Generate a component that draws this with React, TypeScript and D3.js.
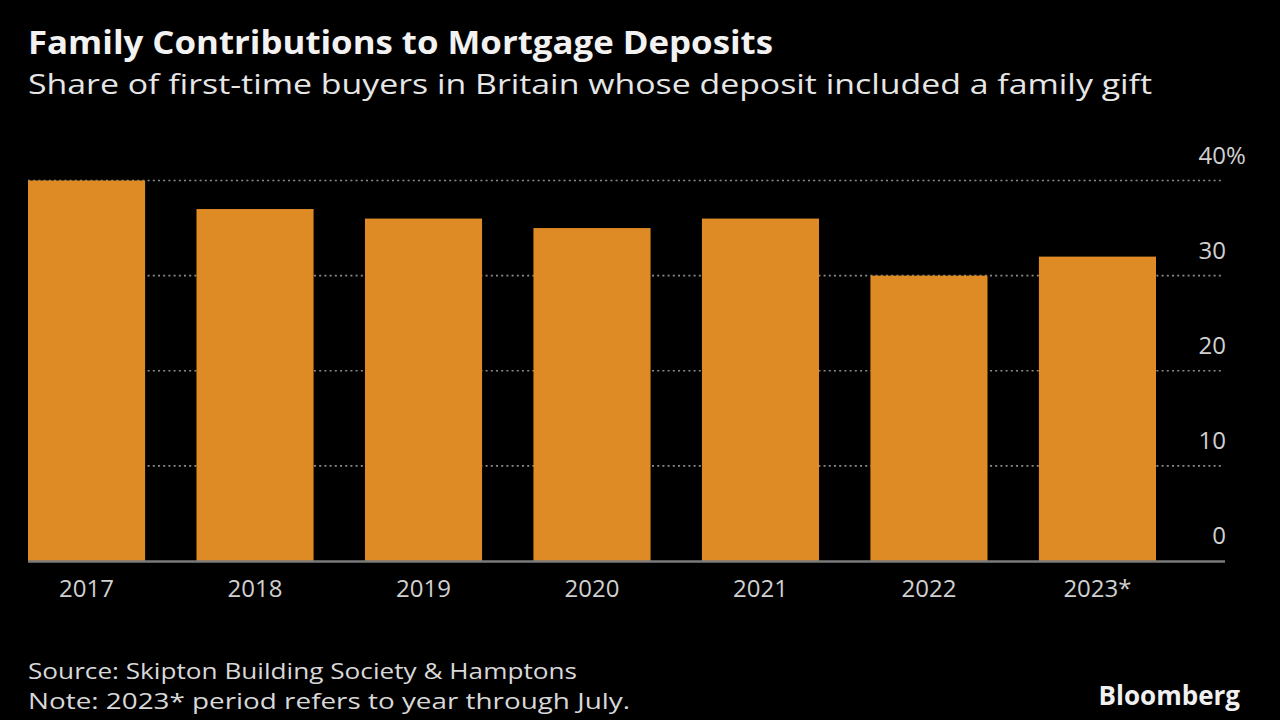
import React from "react";
import * as d3 from "d3";

const years = ["2017", "2018", "2019", "2020", "2021", "2022", "2023*"];
const shares = [40, 37, 36, 35, 36, 30, 32];
const yTicks = [0, 10, 20, 30, 40];

const W = 1280;
const H = 720;
const FONT = "'Open Sans', 'Noto Sans', sans-serif";

export default function App() {
  const x = d3.scaleBand<string>().domain(years).range([28, 1156]).paddingInner(0.305).paddingOuter(0);
  const y = d3.scaleLinear().domain([0, 40]).range([561, 180.5]);
  const gridX1 = 28;
  const gridX2 = 1224;
  const labelX = 1226;

  return (
    <svg width={W} height={H} style={{ position: "absolute", left: 0, top: 0, background: "#000" }}>
      <rect x={0} y={0} width={W} height={H} fill="#000" />
      <text x={28} y={54} fill="#f2f2f2" fontFamily={FONT} fontWeight={700} fontSize={33} textLength={745} lengthAdjust="spacingAndGlyphs">
        Family Contributions to Mortgage Deposits
      </text>
      <text x={28} y={94} fill="#e6e6e6" fontFamily={FONT} fontSize={28} textLength={1124} lengthAdjust="spacingAndGlyphs">
        Share of first-time buyers in Britain whose deposit included a family gift
      </text>

      {yTicks.filter((t) => t > 0).map((t) => (
        <line key={"g" + t} x1={gridX1} x2={gridX2} y1={y(t)} y2={y(t)} stroke="#8a8a8a" strokeWidth={1.6} strokeDasharray="2,3.2" />
      ))}

      {years.map((yr, i) => (
        <rect key={yr} x={x(yr)} y={y(shares[i])} width={x.bandwidth()} height={y(0) - y(shares[i])} fill="#DE8A25" />
      ))}

      <line x1={gridX1} x2={gridX2 + 1} y1={y(0) + 0.5} y2={y(0) + 0.5} stroke="#7a7a7a" strokeWidth={2.5} />

      {yTicks.map((t) => (
        <text key={"t" + t} x={labelX} y={y(t) - 17} fill="#d0d0d0" fontFamily={FONT} fontSize={24} textAnchor="end">
          {t}
        </text>
      ))}
      <text x={labelX} y={y(40) - 17} fill="#d0d0d0" fontFamily={FONT} fontSize={24} textAnchor="start">
        %
      </text>

      {years.map((yr) => (
        <text key={"x" + yr} x={(x(yr) as number) + x.bandwidth() / 2} y={597} fill="#d0d0d0" fontFamily={FONT} fontSize={24} textAnchor="middle">
          {yr}
        </text>
      ))}

      <text x={28} y={679} fill="#d8d8d8" fontFamily={FONT} fontSize={21} textLength={549} lengthAdjust="spacingAndGlyphs">
        Source: Skipton Building Society &amp; Hamptons
      </text>
      <text x={28} y={709} fill="#d8d8d8" fontFamily={FONT} fontSize={21} textLength={602} lengthAdjust="spacingAndGlyphs">
        Note: 2023* period refers to year through July.
      </text>
      <text x={1240} y={705} fill="#f0f0f0" fontFamily={FONT} fontWeight={700} fontSize={26} textAnchor="end">
        Bloomberg
      </text>
    </svg>
  );
}
